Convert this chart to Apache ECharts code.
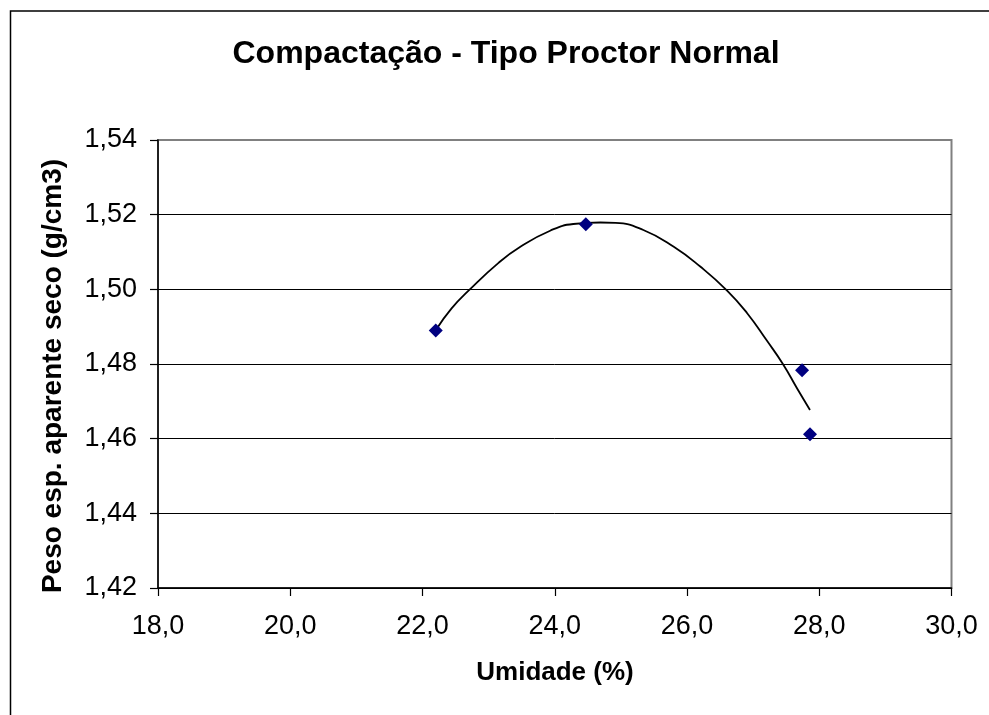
<!DOCTYPE html>
<html>
<head>
<meta charset="utf-8">
<script src="https://cdn.jsdelivr.net/npm/echarts@6/dist/echarts.min.js"></script>
<style>
html,body{margin:0;padding:0;background:#fff;}
#c{width:989px;height:715px;}
</style>
</head>
<body>
<div id="c"></div>
<script>
// Measured points
var pointX = [22.20, 24.47, 27.74, 27.86];
var pointY = [1.4890, 1.5174, 1.4783, 1.4612];
// Trend curve
var trendX = [22.21, 22.44, 22.70, 23.15, 23.48, 23.93, 24.28, 24.69, 24.92, 25.34, 25.80, 26.20, 26.61, 26.91, 27.21, 27.45, 27.67, 27.86];
var trendY = [1.4893, 1.4949, 1.4997, 1.5071, 1.5114, 1.5157, 1.5175, 1.5179, 1.5178, 1.5159, 1.5114, 1.5061, 1.4996, 1.4936, 1.4862, 1.4800, 1.4733, 1.4677];
var titleText = 'Compactação - Tipo Proctor Normal';
var xName = 'Umidade (%)';
var yName = 'Peso esp. aparente seco (g/cm3)';

var FONT = "'Liberation Sans', Arial, sans-serif";
var pts = pointX.map(function (x, i) { return [x, pointY[i]]; });
var trend = trendX.map(function (x, i) { return [x, trendY[i]]; });

var chart = echarts.init(document.getElementById('c'), null, {renderer: 'canvas'});
chart.setOption({
  backgroundColor: '#ffffff',
  animation: false,
  grid: {left: 158, right: 37.5, top: 140, bottom: 127, show: true, borderColor: '#808080', borderWidth: 2, backgroundColor: '#ffffff'},
  xAxis: {
    type: 'value', min: 18, max: 30, interval: 2,
    axisLine: {show: true, onZero: false, lineStyle: {color: '#000', width: 1.5}},
    axisTick: {show: true, inside: false, length: 8, lineStyle: {color: '#000', width: 1.2}},
    axisLabel: {margin: 25, fontSize: 27, color: '#000', fontFamily: FONT,
      formatter: function (v) { return v.toFixed(1).replace('.', ','); }},
    splitLine: {show: false}
  },
  yAxis: {
    type: 'value', min: 1.42, max: 1.54, interval: 0.02,
    axisLine: {show: true, onZero: false, lineStyle: {color: '#000', width: 1.5}},
    axisTick: {show: true, inside: false, length: 8, lineStyle: {color: '#000', width: 1.2}},
    axisLabel: {margin: 21, fontSize: 27, color: '#000', fontFamily: FONT,
      formatter: function (v) { return v.toFixed(2).replace('.', ','); }},
    splitLine: {show: true, lineStyle: {color: ['#000', '#000', '#000', '#000', '#000', '#000', '#808080'], width: 1}}
  },
  series: [
    {
      type: 'line', data: trend, smooth: 0.5, showSymbol: false, symbol: 'none',
      lineStyle: {color: '#000', width: 1.8}, z: 2
    },
    {
      type: 'scatter', data: pts, symbol: 'diamond', symbolSize: 14,
      itemStyle: {color: '#000080', opacity: 1}, z: 3
    }
  ],
  graphic: [
    {type: 'rect', shape: {x: 10.5, y: 11, width: 1200, height: 1200}, style: {fill: null, stroke: '#000', lineWidth: 1.5}, z: -10, silent: true},
    {type: 'text', x: 506, y: 54, style: {text: titleText, font: 'bold 32px ' + FONT, fill: '#000', textAlign: 'center', textVerticalAlign: 'middle'}},
    {type: 'text', x: 555, y: 673, style: {text: xName, font: 'bold 26px ' + FONT, fill: '#000', textAlign: 'center', textVerticalAlign: 'middle'}},
    {type: 'text', x: 53, y: 376, rotation: Math.PI / 2, style: {text: yName, font: 'bold 28px ' + FONT, fill: '#000', textAlign: 'center', textVerticalAlign: 'middle'}}
  ]
});
</script>
</body>
</html>
